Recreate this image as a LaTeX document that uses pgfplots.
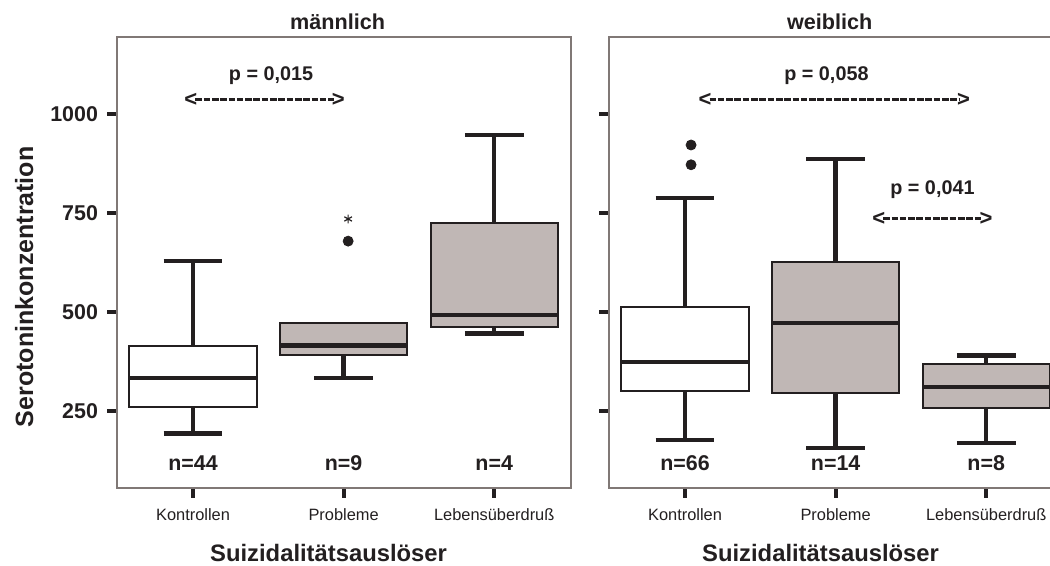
\documentclass[border=0pt]{standalone}
\usepackage{pgfplots}
\pgfplotsset{compat=1.18}
\usepackage{fontspec}
\setmainfont{Liberation Sans}

\definecolor{ink}{RGB}{35,31,32}
\definecolor{boxfill}{RGB}{192,183,181}
\definecolor{framegray}{RGB}{128,120,118}

\newcommand{\fs}[1]{\fontsize{#1}{#1}\selectfont}

% dashed double-headed comparison marker: <------>
% #1,#2: outer ends, #3,#4: ends of the dashed part, #5: height
\newcommand{\parrow}[5]{%
  \node[anchor=west, inner sep=0pt, font=\bfseries\fs{11}, text=ink] at (axis cs:#1,#5) {<};
  \node[anchor=east, inner sep=0pt, font=\bfseries\fs{11}, text=ink] at (axis cs:#2,#5) {>};
  \draw[ink, line width=1.5pt, dash pattern=on 3.3pt off 0.85pt]
    (axis cs:#3,#5) -- (axis cs:#4,#5);
}

\tikzset{
  nlab/.style={font=\bfseries\fs{10.7}, text=ink, anchor=base},
  plab/.style={font=\bfseries\fs{9.9}, text=ink, anchor=base},
}

\pgfplotsset{
  panel/.style={
    scale only axis, width=227pt, height=225.5pt,
    xmin=0.495, xmax=3.51, ymin=55, ymax=1195,
    axis line style={draw=framegray, line width=0.85pt},
    xtick={1,2,3}, xticklabels={Kontrollen,Probleme,Lebensüberdruß},
    ytick={250,500,750,1000},
    tick align=outside, tick pos=left,
    major tick length=5pt,
    tick style={draw=ink, line width=2pt},
    xticklabel style={font=\fs{8.2}, text=ink, yshift=-2pt},
    yticklabel style={font=\bfseries\fs{10.7}, text=ink, xshift=-1pt},
    /pgf/number format/assume math mode=true,
    xlabel={Suizidalitätsauslöser},
    xlabel style={font=\bfseries\fs{11.9}, text=ink,
      at={(axis description cs:0.466,-0.1634)}, anchor=base},
    title style={font=\bfseries\fs{10.8}, text=ink,
      at={(axis description cs:0.486,1.0155)}, anchor=base, yshift=-6pt},
    unbounded coords=jump,
  },
  % box outline, whiskers with caps, median
  box/.style={draw=ink, line width=1pt, solid, mark=none},
  whisk/.style={draw=ink, line width=2.2pt, solid, mark=none},
  med/.style={draw=ink, line width=2.2pt, solid, mark=none},
}
% box half width 0.4225, cap half width 0.195

\begin{document}
\begin{tikzpicture}

% ---------------- männlich ----------------
\begin{axis}[panel, at={(58.5pt,39pt)}, anchor=south west,
  title={männlich},
  yticklabels={250,500,750,1000},
  ylabel={Serotoninkonzentration},
  ylabel style={font=\bfseries\fs{12.5}, text=ink,
    at={(axis description cs:-0.185,0.446)}, anchor=base},
]
% Kontrollen: 193 / 260 / 333 / 415 / 629
\addplot[whisk] coordinates {(1,415) (1,629) (1,nan) (0.805,629) (1.195,629)
  (1,nan) (1,260) (1,193) (1,nan) (0.805,193) (1.195,193)};
\addplot[box, fill=white] coordinates {(0.5775,260) (1.4225,260) (1.4225,415) (0.5775,415)} -- cycle;
\addplot[med] coordinates {(0.5775,333) (1.4225,333)};
% Probleme: 333 / 392 / 415 / 472 / 472
\addplot[whisk] coordinates {(2,392) (2,333) (2,nan) (1.805,333) (2.195,333)};
\addplot[box, fill=boxfill] coordinates {(1.5775,392) (2.4225,392) (2.4225,472) (1.5775,472)} -- cycle;
\addplot[med] coordinates {(1.5775,415) (2.4225,415)};
% Lebensüberdruß: 446 / 463 / 493 / 726 / 948
\addplot[whisk] coordinates {(3,726) (3,948) (3,nan) (2.805,948) (3.195,948)
  (3,nan) (3,463) (3,446) (3,nan) (2.805,446) (3.195,446)};
\addplot[box, fill=boxfill] coordinates {(2.5775,463) (3.4225,463) (3.4225,726) (2.5775,726)} -- cycle;
\addplot[med] coordinates {(2.5775,493) (3.4225,493)};

% outliers
\addplot[only marks, mark=*, mark size=2.5pt, ink] coordinates {(2.03,679)};
\addplot[only marks, mark=asterisk, mark size=2.2pt, ink, line width=0.6pt] coordinates {(2.03,735)};

\node[nlab] at (axis cs:1,98) {n=44};
\node[nlab] at (axis cs:2,98) {n=9};
\node[nlab] at (axis cs:3,98) {n=4};

\node[plab] at (axis cs:1.518,1085) {p = 0,015};
\parrow{0.94}{2.01}{1.015}{1.935}{1036}
\end{axis}

% ---------------- weiblich ----------------
\begin{axis}[panel, at={(304.5pt,39pt)}, anchor=south west,
  title={weiblich},
  yticklabels={},
]
% Kontrollen: 176 / 301 / 374 / 513 / 788
\addplot[whisk] coordinates {(1,513) (1,788) (1,nan) (0.805,788) (1.195,788)
  (1,nan) (1,301) (1,176) (1,nan) (0.805,176) (1.195,176)};
\addplot[box, fill=white] coordinates {(0.5775,301) (1.4225,301) (1.4225,513) (0.5775,513)} -- cycle;
\addplot[med] coordinates {(0.5775,374) (1.4225,374)};
% Probleme: 156 / 296 / 472 / 627 / 886
\addplot[whisk] coordinates {(2,627) (2,886) (2,nan) (1.805,886) (2.195,886)
  (2,nan) (2,296) (2,156) (2,nan) (1.805,156) (2.195,156)};
\addplot[box, fill=boxfill] coordinates {(1.5775,296) (2.4225,296) (2.4225,627) (1.5775,627)} -- cycle;
\addplot[med] coordinates {(1.5775,472) (2.4225,472)};
% Lebensüberdruß: 168 / 257 / 311 / 368 / 390
\addplot[whisk] coordinates {(3,368) (3,390) (3,nan) (2.805,390) (3.195,390)
  (3,nan) (3,257) (3,168) (3,nan) (2.805,168) (3.195,168)};
\addplot[box, fill=boxfill] coordinates {(2.5775,257) (3.4225,257) (3.4225,368) (2.5775,368)} -- cycle;
\addplot[med] coordinates {(2.5775,311) (3.4225,311)};

% outliers
\addplot[only marks, mark=*, mark size=2.5pt, ink] coordinates {(1.04,922) (1.04,872)};

\node[nlab] at (axis cs:1,98) {n=66};
\node[nlab] at (axis cs:2,98) {n=14};
\node[nlab] at (axis cs:3,98) {n=8};

\node[plab] at (axis cs:1.939,1085) {p = 0,058};
\parrow{1.088}{2.894}{1.163}{2.819}{1036}
\node[plab] at (axis cs:2.643,798) {p = 0,041};
\parrow{2.241}{3.045}{2.316}{2.970}{735}
\end{axis}

\pgfresetboundingbox
\useasboundingbox (0,0) rectangle (525pt,283pt);
\end{tikzpicture}
\end{document}
